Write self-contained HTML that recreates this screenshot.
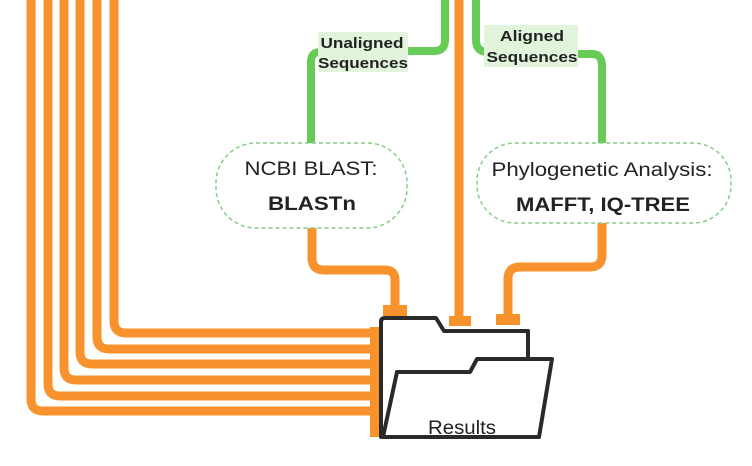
<!DOCTYPE html>
<html><head><style>
body{margin:0;background:#fff;width:752px;height:466px;overflow:hidden}
svg{display:block}
text{font-family:"Liberation Sans",sans-serif}
</style></head><body>
<svg width="752" height="466" viewBox="0 0 752 466">
<g fill="none" stroke="#f7922d" stroke-width="9" stroke-linejoin="round">
<path d="M31 0 V399 Q31 411 43 411 H372"/>
<path d="M48 0 V384 Q48 396 60 396 H372"/>
<path d="M64 0 V368 Q64 380 76 380 H372"/>
<path d="M80 0 V352 Q80 364 92 364 H372"/>
<path d="M97 0 V337 Q97 349 109 349 H372"/>
<path d="M114 0 V321 Q114 333 126 333 H372"/>
<path d="M459 0 V320"/>
<path d="M312 228 V258 Q312 270 324 270 H385 Q395 270 395 280 V310"/>
<path d="M602 222 V255 Q602 267 590 267 H520 Q508 267 508 279 V318"/>
</g>
<g fill="#f7922d">
<rect x="370" y="327" width="10" height="110"/>
<rect x="383" y="305" width="24" height="11"/>
<rect x="449" y="316" width="22" height="10"/>
<rect x="496" y="314" width="24" height="11"/>
</g>
<g fill="none" stroke="#66cc55" stroke-width="8">
<path d="M445 0 V40 Q445 51 434 51 H408"/>
<path d="M311 143 V62 Q311 52 320 52"/>
<path d="M476 0 V40 Q476 52 488 52"/>
<path d="M575 54 H592 Q602 54 602 66 V143"/>
</g>
<g fill="#e2f5dc">
<rect x="318" y="32" width="90" height="40"/>
<rect x="484" y="25" width="94" height="42"/>
</g>
<g font-weight="bold" font-size="15" fill="#222" text-anchor="middle">
<text x="362" y="48" textLength="83" lengthAdjust="spacingAndGlyphs">Unaligned</text>
<text x="363" y="68" textLength="90" lengthAdjust="spacingAndGlyphs">Sequences</text>
<text x="532" y="41" textLength="64" lengthAdjust="spacingAndGlyphs">Aligned</text>
<text x="532" y="62" textLength="91" lengthAdjust="spacingAndGlyphs">Sequences</text>
</g>
<rect x="216" y="143" width="191" height="85" rx="40" fill="#fff" stroke="#88cc88" stroke-width="1.5" stroke-dasharray="4,3"/>
<rect x="477" y="143" width="254" height="80" rx="38" fill="#fff" stroke="#88cc88" stroke-width="1.5" stroke-dasharray="4,3"/>
<g text-anchor="middle" fill="#222">
<text x="311" y="175" font-size="19" textLength="133" lengthAdjust="spacingAndGlyphs">NCBI BLAST:</text>
<text x="312" y="210" font-size="19" font-weight="bold" textLength="88" lengthAdjust="spacingAndGlyphs">BLASTn</text>
<text x="602" y="176" font-size="19" textLength="221" lengthAdjust="spacingAndGlyphs">Phylogenetic Analysis:</text>
<text x="603" y="211" font-size="19" font-weight="bold" textLength="174" lengthAdjust="spacingAndGlyphs">MAFFT, IQ-TREE</text>
</g>
<g stroke="#2a2a2a" stroke-width="4" stroke-linejoin="round" fill="#fff">
<path d="M381 322 Q381 318 385 318 H436 L444 331 H528 V366 L381 437 Z"/>
<path d="M381 322 V437"/>
<path d="M397 372 H470 L477 359 H552 L539 437 H383 Z"/>
</g>
<text x="462" y="434" font-size="19" fill="#222" text-anchor="middle" textLength="68" lengthAdjust="spacingAndGlyphs">Results</text>
</svg>
</body></html>
